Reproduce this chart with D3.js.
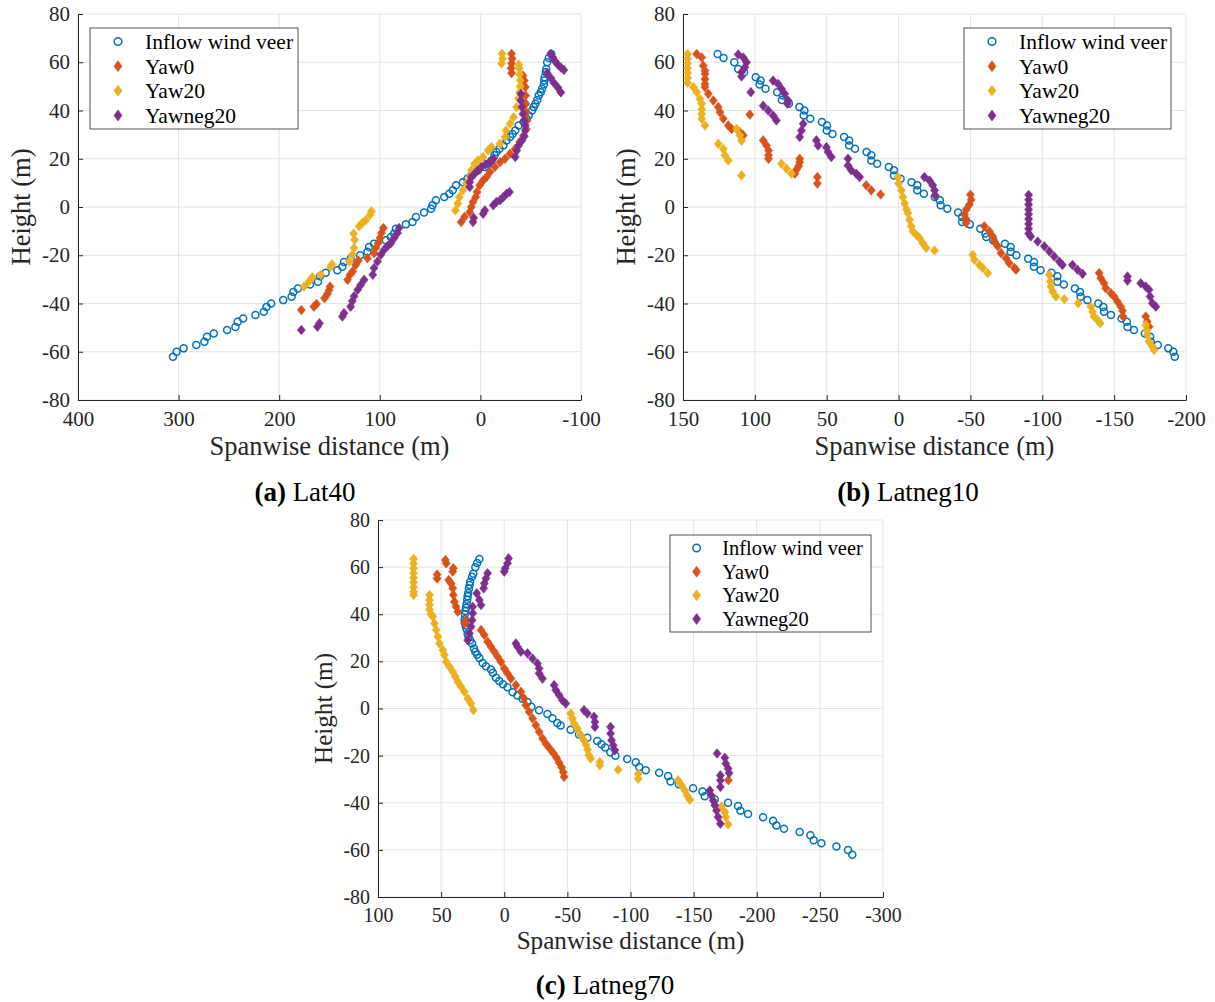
<!DOCTYPE html>
<html>
<head>
<meta charset="utf-8">
<script src="https://cdn.jsdelivr.net/npm/d3@7"></script>
<style>
body { margin: 0; background: #fff; }
svg { display: block; font-family: "Liberation Serif", "Times New Roman", serif; }
svg text { font-family: "Liberation Serif", "Times New Roman", serif; }
</style>
</head>
<body>
<svg id="fig" width="1215" height="1002"></svg>
<script>
//////////////////// DATA ////////////////////
// legend entries and colours
const seriesNames = ["Inflow wind veer", "Yaw0", "Yaw20", "Yawneg20"];
const seriesColors = ["#0072BD", "#D95319", "#EDB120", "#7E2F8E"];

// ticks
const yTicks = [-80, -60, -40, -20, 0, 20, 40, 60, 80];
const xTicksA = [400, 300, 200, 100, 0, -100];
const xTicksB = [150, 100, 50, 0, -50, -100, -150, -200];
const xTicksC = [100, 50, 0, -50, -100, -150, -200, -250, -300];

// heights of the inflow profile (m)
const inflowHeights = [63.4, 61.8, 60, 57.2, 55.9, 53.8, 52.4, 50.8, 49, 47.6, 46.2, 44.4, 42.8, 41.4, 40, 37.9,
    36.6, 35.2, 33.8, 31.7, 30.3, 29, 27.6, 25.5, 24.1, 22.8, 21.4, 19.3, 17.9, 16.6, 15.2, 13.1, 11.7, 10.3, 9,
    6.9, 5.5, 4.1, 2.8, 0.7, -0.7, -2.3, -4.1, -6.2, -7.2, -9, -11, -12.4, -13.8, -15.2, -16.6, -18.6, -20,
    -21.4, -22.8, -24.8, -26.2, -27.3, -28.7, -31, -32.1, -33.8, -35.2, -37.2, -38.6, -40, -41.4, -43.4, -44.8,
    -46.2, -47.6, -49.7, -51, -52.4, -53.8, -55.9, -57.2, -58.6, -60, -62.1];

// spanwise position of the inflow profile at each height
const inflowXA = [-70.5, -68, -66.4, -65.4, -65, -63.8, -63.5, -63, -61.4, -60, -58, -56.5, -54.7, -53, -51.3, -48,
    -46, -43, -38, -34.6, -32, -29.5, -26, -22.8, -19, -16, -14, -11, -8, -4.4, 2.3, 9, 13, 17.4, 24.2,
    27.5, 30.9, 35.9, 44.3, 47.6, 49, 56, 64.1, 67.5, 74.1, 84, 85.7, 89, 94, 105.7, 110.7, 112.3, 119.6,
    128.9, 135.6, 137.2, 142.2, 153.8, 159.5, 161.5, 169.4, 181.4, 186, 187.7, 196, 208, 212.6, 215.3, 223.6,
    235.9, 241.2, 243.5, 251.8, 265, 271.8, 274.4, 282.4, 295, 302, 305.6];
const inflowXB = [125.9, 121.8, 114.3, 111.6, 107.5, 99.4, 96, 96.7, 92.6, 84.5, 80.4, 81.2, 76.3, 69, 65.5, 66,
    61.5, 53.3, 49.8, 50, 46, 37.9, 34.4, 34.4, 30.3, 22.2, 19, 19, 14.9, 6.8, 3.2, 3.2, -1.4, -9, -13,
    -13, -17.6, -25.2, -28.7, -29.3, -33.9, -41.4, -44.2, -44.2, -49.6, -56.9, -60.4, -61, -65.8, -74, -78, -78, -82,
    -90.2, -94.2, -94.2, -98.8, -106.4, -110.5, -110.5, -115, -122.7, -126.2, -126.7, -131.4, -139, -142.5, -143, -147.8,
    -155.2, -158.8, -159.3, -163.8, -171.4, -175, -175.5, -180.4, -187.7, -191.2, -192.2];
const inflowXC = [19.7, 21.5, 22.9, 24.5, 25.5, 27, 27.4, 28, 28.6, 29, 29.3, 29.8, 30.3, 30.8, 31.2, 31.3,
    31.3, 30.6, 30, 29, 28.2, 27, 25.5, 24, 22.9, 21.5, 19.7, 17.1, 14.5, 10.5, 9, 6.5, 4, 1, -2.6,
    -6.6, -10.5, -14.5, -18.4, -21.5, -27.6, -34.2, -38.2, -42, -44.7, -52.6, -59.2, -65.8, -73.7, -77, -80, -84, -88,
    -97.4, -104.2, -106.9, -112.1, -122.7, -129.8, -131.7, -138.3, -149.6, -157, -158.8, -166.8, -177.3, -185.2, -187.1, -193.1,
    -205, -212.9, -215.6, -221.6, -234, -242.5, -245.1, -251.2, -263.1, -272.3, -275.7];

// wake centre points [spanwise, height], panel (a) Lat40
const yaw0A = [[178, -42.7], [165.5, -41.3], [162.9, -40.2], [155, -37.8], [152, -36], [150.5, -34.5], [149.5, -33],
    [132, -30.2], [129.6, -28.1], [127, -26.7], [124, -24], [121.3, -22.2], [112.3, -21.2], [105.7, -19.1], [104, -17],
    [101.7, -15], [99.7, -12.9], [98.4, -10.8], [96.4, -8.7],
    [19.1, -6.2], [15.8, -4.1], [10.7, -2.1], [9, 0], [7.4, 2.1], [4.7, 4.1], [3.4, 6.2], [0.7, 9], [-2.7, 11], [-6, 12.4],
    [-9.4, 14.5], [-14.4, 16.6], [-19.5, 18.6], [-24.5, 20], [-29.5, 22.1], [-34.6, 24.1], [-39, 26.9], [-43, 29.7],
    [-45.6, 32.4], [-46.3, 35.9], [-45.6, 39.3], [-45.3, 42.8], [-45, 46.2], [-44.6, 49.7], [-43.6, 52.4], [-42.3, 54.5],
    [-31, 55.5], [-30.5, 57.5], [-31, 59.5], [-31.5, 61.5], [-31, 63.5]];
const yaw20A = [[175.4, -33], [170.4, -30.9], [167, -29.1], [158.8, -28.1], [148.9, -24.9], [147.5, -23.8], [130.6, -22.6],
    [127.3, -19.8], [125.6, -17], [125, -13.6], [126, -11], [120.6, -8], [117.3, -6.6], [114, -5.5], [109.6, -3.2], [108.3, -1.8],
    [24.8, -1.4], [22.5, 1.4], [20.8, 4.1], [17.4, 6.9], [14, 9.7], [10.7, 12.4], [9, 15.2], [5.7, 17.9], [2.3, 19.3],
    [-2.7, 20.7], [-7.7, 23.4], [-11, 24.8], [-19.5, 26.2], [-24.5, 29], [-25.5, 31.7], [-29.5, 34.5], [-33, 37.2],
    [-36, 41.4], [-38, 45], [-39, 47.5], [-39.5, 50], [-39.5, 52.5], [-39, 55], [-38.5, 57.5], [-38, 59],
    [-21, 59.5], [-22, 61.5], [-21.5, 63.5]];
const yawneg20A = [[178, -51], [162, -49.6], [160, -48.2], [137.2, -45.4], [135.6, -44], [129, -41.3], [127.3, -39],
    [125.6, -37], [122, -34.3], [119, -32.3], [115.6, -30.2], [107, -28.1], [105.7, -25.3], [102.3, -22.6], [99, -19.8],
    [95.7, -17.7], [92.3, -16.2], [89, -15], [85.7, -12.9], [82.4, -10.8], [80.8, -8.7],
    [7.4, -6.2], [6.7, -4.5], [-2.7, -2.8], [-4.4, -1.4], [-12.8, 0.7], [-16, 2.1], [-19.5, 2.8], [-22.8, 4.1], [-26, 5.5], [-28.9, 6.2],
    [10.7, 8.3], [10.7, 10.3], [9, 12.4], [5.7, 13.8], [2.3, 15.2], [-1, 16.6], [-5, 17.6], [-9.4, 18.6], [-12.8, 20],
    [-34.6, 20.7], [-36.2, 23.4], [-38, 25.5], [-41.3, 27.6], [-43.6, 29.3], [-44.6, 31.7], [-44.6, 33.8], [-43.6, 35.9],
    [-42.3, 38.6], [-41.3, 41.4], [-40.3, 44.1], [-40.3, 46.9],
    [-66.4, 55.5], [-70, 53.5], [-73, 51.5], [-77, 49.5], [-80, 47.5],
    [-70, 63.5], [-72, 62], [-74, 60.5], [-77, 59], [-80, 57.8], [-83, 56.8]];

// panel (b) Latneg10
const yaw0B = [[140.5, 63.4], [137, 62], [135.9, 58.6], [134.7, 56.5], [134.7, 55.2], [134.7, 53], [134.7, 51], [134.7, 49.7],
    [132.4, 46.9], [128.9, 44.1], [125.5, 41.4], [124.3, 39.3], [122, 36.6], [118.5, 33.8], [116.2, 32.4], [110.4, 31], [108.1, 29.7],
    [103.5, 38.3],
    [94.2, 27.6], [91.9, 25.5], [90.5, 23.4], [90.5, 21.5], [90.5, 20],
    [72.2, 13.8], [71, 15.5], [69.5, 17], [68.8, 18.6], [68.8, 20],
    [56.5, 12.4], [56.5, 9.7],
    [22.5, 9], [19, 6.9], [12.5, 5.2],
    [-50, 5.1], [-50.5, 3], [-49.3, 1], [-47, -1.1], [-45.8, -3.2], [-47, -5], [-47, -6.6],
    [-59.7, -8], [-63.2, -10.1], [-65.5, -12.2], [-66.7, -14.3], [-69, -16.3], [-71.3, -19.1], [-74.8, -21.2], [-77, -23.3],
    [-80.6, -25.3], [-81.7, -26],
    [-139.6, -27.4], [-140.7, -29.5], [-143, -31.6], [-144.2, -33.7], [-147.7, -35.7], [-150, -37.1], [-152.3, -39.2],
    [-154.6, -41.3], [-155.8, -43], [-156.2, -45.4],
    [-172, -45.4], [-173, -47.5], [-174.3, -49.6]];
const yaw20B = [[146.8, 63.4], [146.8, 61.5], [146.8, 59.5], [146.8, 57.5], [146.8, 55.5], [146.8, 53.5], [146.8, 51.5],
    [142.8, 49.7], [140.5, 47.6], [138.2, 44.8], [137, 42.8], [137, 40.5], [137, 38.5], [137, 36.6], [134.7, 33.8],
    [112.7, 32.4], [110.4, 29.7], [109.3, 27.5],
    [125.5, 26.2], [122, 24.1], [120.8, 21.4], [118.5, 19.3],
    [109.3, 13.1],
    [81.5, 17.9], [78, 15.9], [74.5, 13.8],
    [0.5, 12.4], [0, 9.7], [-1.9, 6.9], [-3, 4.1], [-4.2, 1.4], [-5.5, -1], [-6.5, -2.5], [-7.6, -5.3], [-8.8, -8],
    [-10, -10.1], [-12.3, -11.5], [-14.6, -12.9], [-16.9, -15], [-19.2, -17],
    [-25, -18],
    [-51.6, -19.8], [-52.8, -21.9], [-56.3, -24], [-58.6, -25.3], [-62, -27.4],
    [-104.9, -28.1], [-105.6, -30.9], [-106, -33], [-107.2, -35], [-109.5, -37.1],
    [-115.3, -38.2],
    [-125, -39.9],
    [-133.8, -41.3], [-135, -43.4], [-136, -45.4], [-138.4, -46.8], [-140.3, -48.2],
    [-172, -48.9], [-172.7, -51], [-173.1, -53], [-174.3, -55.8], [-176.6, -57.9], [-177.8, -59.3]];
const yawneg20B = [[111.6, 63.2], [108.1, 62], [105.8, 60], [106.9, 57.9], [109.3, 55.9], [109.3, 54.1],
    [102.8, 47.6],
    [87.3, 52.4], [83.8, 51], [81.5, 49], [79.2, 46.9], [76.9, 44.1], [77.3, 42.8],
    [94.2, 42], [90.7, 40], [87.3, 37.9], [85, 35.9],
    [66.4, 34.5], [67.6, 31.7], [68.8, 29],
    [57.2, 27.6], [56, 25.5],
    [50.2, 24.8], [49.1, 22.8], [46.8, 20.7],
    [35.2, 20], [35.2, 17.2], [32.9, 15.2], [29.4, 13.8], [27.1, 12.4],
    [-18, 12.4], [-21.5, 11], [-23.8, 9], [-25, 6.9], [-25.5, 4.8],
    [-90.5, 5], [-90.5, 3], [-90.5, 1], [-90.5, -1], [-90.5, -3], [-90.5, -5], [-90.5, -7], [-90.5, -9], [-90.5, -11],
    [-92, -12.2], [-96.8, -14.3], [-101.4, -16.3], [-104.9, -18.4], [-108.3, -20.5], [-111.8, -22.6], [-114, -24],
    [-121, -24], [-124.5, -26], [-128, -27.7],
    [-159.3, -28.8], [-159.3, -30.5],
    [-168.5, -31.6], [-172, -33], [-174.3, -34.3], [-175, -37.1], [-176.6, -39.9], [-179, -41.3]];

// panel (c) Latneg70
const yaw0C = [[46.6, 63], [46, 61.6], [40.3, 59.5], [40.8, 58.1], [53.2, 56.9], [53.2, 55.2],
    [44, 54.5], [42.1, 53.1], [40.8, 51], [40.3, 48.2], [39.5, 45.3], [38.2, 43.2], [36.8, 41.1],
    [30.3, 37.5], [31.1, 36.1],
    [18.4, 33.3], [15.8, 31.2], [13.2, 28.3], [10.5, 26.2], [7.9, 24.1], [5.3, 22], [2.6, 19.8], [0, 17], [-2.6, 14.9],
    [-5.3, 12.7], [-9.2, 9.9], [-13.2, 7.1], [-15.8, 4.2], [-17.1, 1.4], [-19.7, -1.4], [-22.4, -4.2], [-25, -7.1],
    [-27.6, -9.9], [-30.3, -12.7], [-33, -15], [-36, -17], [-39, -19], [-41.5, -21], [-43.5, -23], [-45.5, -25],
    [-46.7, -27], [-47.4, -29],
    [-177.5, -30.4]];
const yaw20C = [[71.8, 63.5], [71.8, 61.5], [71.8, 59.5], [71.8, 57.5], [71.8, 55.5], [71.8, 53.5], [71.8, 51.5], [71.8, 49.5],
    [71.8, 48.2],
    [59.2, 48.2], [59.2, 46], [59.2, 44], [59.2, 42], [58, 40], [56.6, 39], [55.3, 36.1], [53.9, 33.3], [52.6, 30.5],
    [51.3, 27.6], [48.7, 24.8], [47.4, 22.7], [46, 19.8], [43.4, 17.7], [40.8, 15.6], [38.7, 13.5], [36.8, 11.3],
    [34.2, 9.2], [31.6, 7.1], [28.9, 4.2], [26.3, 2.1], [24.5, -0.7],
    [-52.6, -2.1], [-53.9, -4.2], [-55.3, -6.4], [-57.9, -8.5], [-60.5, -11.3], [-63, -13.5], [-64.9, -15.5], [-66, -17.5],
    [-67, -19.8], [-68.5, -21.2],
    [-75.7, -22.7], [-75.7, -24.1],
    [-90.2, -26],
    [-106.1, -27.7], [-106.1, -29.8],
    [-137.7, -30.5], [-140.4, -32.6], [-143, -34.8], [-144.9, -36.9], [-147, -38.7],
    [-172, -41.6], [-174.7, -44], [-175.5, -46.1], [-177.3, -49.2]];
const yawneg20C = [[-3.4, 63.7], [-2.6, 61.6], [-0.8, 59.5], [0, 58.1],
    [13.2, 57.4], [14.5, 55.2], [15.8, 53.1], [16.3, 51],
    [21.8, 48.9], [19.7, 46], [18.4, 43.9],
    [25, 43.2], [25, 40.4], [25.5, 37.5], [26.3, 34.7], [27.6, 31.9], [28.9, 29],
    [-9.2, 27.6], [-10.5, 26.2], [-13.2, 24.1],
    [-18.4, 23.4], [-22.4, 21.2], [-26.3, 19.1], [-27.6, 17], [-27.6, 14.9], [-30.3, 12.7],
    [-39.5, 9.9], [-40.8, 7.8], [-43.4, 5.7], [-46, 3.5], [-48.7, 2.1],
    [-63.2, -0.7], [-65.8, -2.1], [-71.1, -3.5], [-71.8, -5.7], [-71.8, -7.8],
    [-84.2, -7.8], [-84.2, -10.6], [-85, -13.5], [-86.3, -15.6], [-87.6, -17.7],
    [-168.6, -19.1], [-174.7, -20.9], [-175.5, -23.4], [-177.3, -25.5], [-178.1, -27.4],
    [-171.2, -28.4], [-171.2, -30.5], [-171.2, -33.3],
    [-162.8, -34.8], [-164.1, -36.9], [-165.4, -39], [-166.8, -41.1], [-168.1, -43.3], [-169.4, -46.1], [-171.2, -48.9]];


//////////////////// PANEL LAYOUT ////////////////////
const panels = [
    { left: 78, right: 581, top: 14, bottom: 400, xDomain: [400, -100], xTicks: xTicksA,
      inflowX: inflowXA, wakes: [yaw0A, yaw20A, yawneg20A],
      legend: { x: 90, y: 28, w: 208, h: 101 }, caption: ["(a)", "Lat40"], capX: 305, capY: 501, k: 1 },
    { left: 683, right: 1186, top: 14, bottom: 400, xDomain: [150, -200], xTicks: xTicksB,
      inflowX: inflowXB, wakes: [yaw0B, yaw20B, yawneg20B],
      legend: { x: 964, y: 28, w: 207, h: 101 }, caption: ["(b)", "Latneg10"], capX: 908, capY: 501, k: 1 },
    { left: 378, right: 883, top: 520, bottom: 897, xDomain: [100, -300], xTicks: xTicksC,
      inflowX: inflowXC, wakes: [yaw0C, yaw20C, yawneg20C],
      legend: { x: 670, y: 535, w: 201, h: 97 }, caption: ["(c)", "Latneg70"], capX: 605, capY: 994, k: 0.95 }
];

const svg = d3.select("#fig");
const axisColor = "#262626";
const gridColor = "#e3e3e3";
const serif = "'Liberation Serif', 'Times New Roman', serif";

// MATLAB style diamond, a little taller than wide
const diamondPath = (w, h) => `M0,${-h}L${w},0L0,${h}L${-w},0Z`;


//////////////////// DRAW PANEL FUNCTION ////////////////////
function drawPanel(p) {

    const g = svg.append("g");

    // scalers
    const x = d3.scaleLinear().domain(p.xDomain).range([p.left, p.right]);
    const y = d3.scaleLinear().domain([-80, 80]).range([p.bottom, p.top]);

    // grid
    g.selectAll(".vgrid").data(p.xTicks).enter().append("line")
        .attr("x1", d => x(d)).attr("x2", d => x(d))
        .attr("y1", p.top).attr("y2", p.bottom)
        .attr("stroke", gridColor).attr("stroke-width", 1);
    g.selectAll(".hgrid").data(yTicks).enter().append("line")
        .attr("x1", p.left).attr("x2", p.right)
        .attr("y1", d => y(d)).attr("y2", d => y(d))
        .attr("stroke", gridColor).attr("stroke-width", 1);

    // axes (ticks pointing inward)
    const fs = 21 * p.k;
    const xAxis = d3.axisBottom(x).tickValues(p.xTicks).tickSizeInner(-5).tickSizeOuter(0)
        .tickPadding(11).tickFormat(d => String(d));
    const yAxis = d3.axisLeft(y).tickValues(yTicks).tickSizeInner(-5).tickSizeOuter(0)
        .tickPadding(8).tickFormat(d => String(d));

    const xg = g.append("g").attr("transform", `translate(0,${p.bottom})`).call(xAxis);
    const yg = g.append("g").attr("transform", `translate(${p.left},0)`).call(yAxis);
    [xg, yg].forEach(a => {
        a.attr("font-family", serif).attr("font-size", fs);
        a.select(".domain").attr("stroke", axisColor).attr("stroke-width", 1);
        a.selectAll(".tick line").attr("stroke", axisColor).attr("stroke-width", 1);
        a.selectAll(".tick text").attr("fill", axisColor);
    });

    // axis labels
    g.append("text")
        .attr("x", (p.left + p.right) / 2).attr("y", p.bottom + 55 * p.k)
        .attr("text-anchor", "middle").attr("fill", axisColor)
        .style("font-size", (26.5 * p.k) + "px")
        .text("Spanwise distance (m)");
    g.append("text")
        .attr("transform", `rotate(-90, ${p.left - 48 * p.k}, ${(p.top + p.bottom) / 2})`)
        .attr("x", p.left - 48 * p.k).attr("y", (p.top + p.bottom) / 2)
        .attr("text-anchor", "middle").attr("fill", axisColor)
        .style("font-size", (26.5 * p.k) + "px")
        .text("Height (m)");

    // inflow profile (open circles)
    g.selectAll(".inflow").data(inflowHeights).enter().append("circle")
        .attr("cx", (d, i) => x(p.inflowX[i]))
        .attr("cy", d => y(d))
        .attr("r", 3.5)
        .attr("fill", "none")
        .attr("stroke", seriesColors[0])
        .attr("stroke-width", 1.5);

    // wake centres (filled diamonds)
    p.wakes.forEach((series, s) => {
        g.selectAll(".wake" + s).data(series).enter().append("path")
            .attr("d", diamondPath(4, 4.8))
            .attr("transform", d => `translate(${x(d[0])},${y(d[1])})`)
            .attr("fill", seriesColors[s + 1])
            .attr("stroke", seriesColors[s + 1])
            .attr("stroke-width", 0.6);
    });

    // legend
    const L = p.legend;
    const lg = g.append("g");
    lg.append("rect")
        .attr("x", L.x).attr("y", L.y).attr("width", L.w).attr("height", L.h)
        .attr("fill", "#fff").attr("stroke", axisColor).attr("stroke-width", 0.8);
    const rowH = L.h / 4.1;
    seriesNames.forEach((name, i) => {
        const cy = L.y + rowH * (i + 0.55);
        const mx = L.x + 28 * p.k;
        if (i === 0) {
            lg.append("circle").attr("cx", mx).attr("cy", cy).attr("r", 3.8)
                .attr("fill", "none").attr("stroke", seriesColors[0]).attr("stroke-width", 1.5);
        } else {
            lg.append("path").attr("d", diamondPath(4, 5.5))
                .attr("transform", `translate(${mx},${cy})`)
                .attr("fill", seriesColors[i]).attr("stroke", seriesColors[i]).attr("stroke-width", 0.6);
        }
        lg.append("text")
            .attr("x", L.x + 55 * p.k).attr("y", cy).attr("dy", "0.35em")
            .attr("fill", "#000")
            .style("font-size", (21.5 * p.k) + "px")
            .text(name);
    });

    // caption
    const cap = g.append("text")
        .attr("x", p.capX).attr("y", p.capY)
        .attr("text-anchor", "middle").attr("fill", "#000")
        .style("font-size", "27px");
    cap.append("tspan").attr("font-weight", "bold").text(p.caption[0]);
    cap.append("tspan").text(" " + p.caption[1]);
}

panels.forEach(drawPanel);
</script>
</body>
</html>
